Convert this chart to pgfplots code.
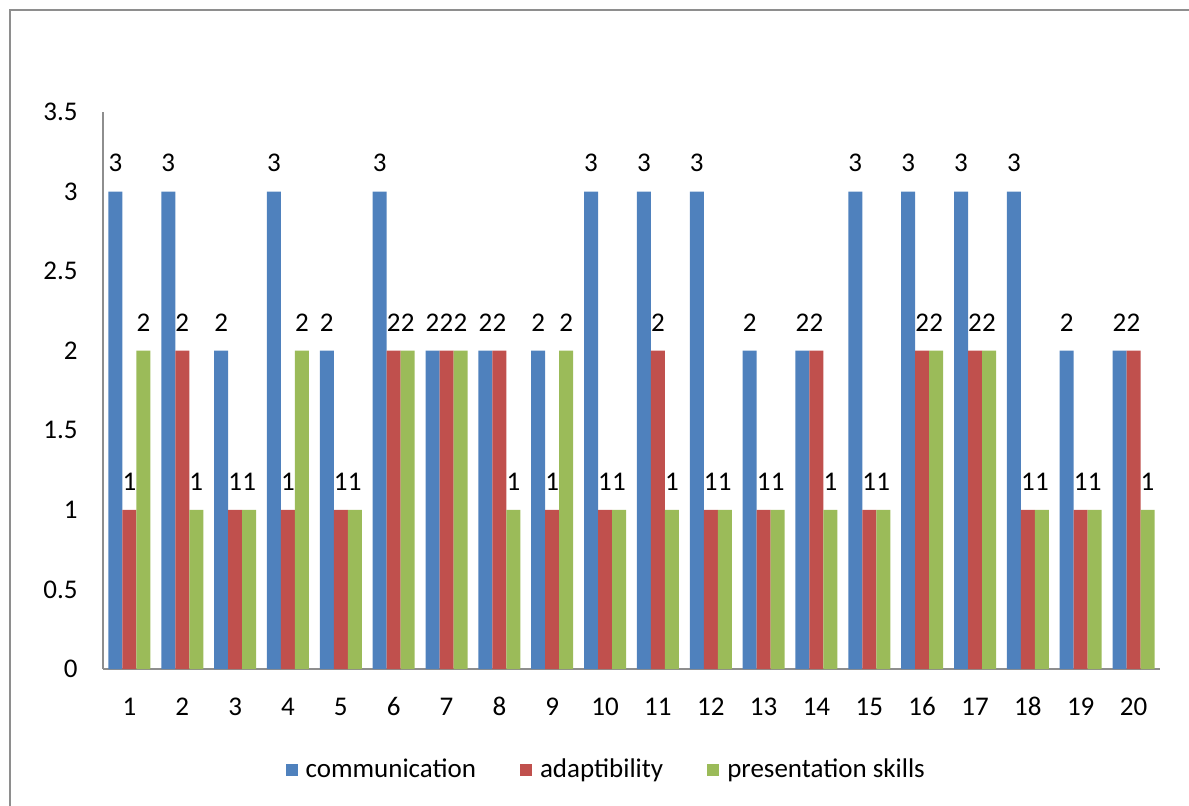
\documentclass[border=0pt]{standalone}
\usepackage{pgfplots}
\pgfplotsset{compat=1.18}
\usepackage{fontspec}
\setmainfont{Carlito}
\definecolor{cblue}{HTML}{4F81BD}
\definecolor{cred}{HTML}{C0504D}
\definecolor{cgreen}{HTML}{9BBB59}
\definecolor{axgray}{HTML}{8E8E8E}
\begin{document}
\fontsize{13.5pt}{15pt}\selectfont
\begin{tikzpicture}
\useasboundingbox (0,0) rectangle (594.5pt,-403pt);
\draw[axgray, line width=1pt] (5pt,-420pt) -- (5pt,-5pt) -- (610pt,-5pt);
\begin{axis}[
  at={(51.5pt,-334.5pt)}, anchor=south west,
  scale only axis, width=528.5pt, height=278.5pt,
  axis x line*=bottom, axis y line*=left,
  axis line style={axgray, line width=0.8pt},
  ymin=0, ymax=3.5, ytick={0,0.5,...,3.5},
  xmin=0.5, xmax=20.5, xtick={1,...,20},
  major tick length=0pt,
  /pgf/number format/assume math mode=true,
  tick label style={font=\fontsize{13.5pt}{15pt}\selectfont},
  yticklabel style={xshift=-8pt},
  xticklabel style={yshift=-10pt, text height=8.5pt, text depth=0pt},
  ybar=0pt, bar width=7pt,
  nodes near coords,
  every node near coord/.append style={font=\fontsize{13.5pt}{15pt}\selectfont, yshift=5pt, black},
  legend style={at={(0.477,-0.181)}, anchor=center, draw=none, legend columns=3,
    font=\fontsize{13.5pt}{15pt}\selectfont,
    /tikz/every odd column/.append style={column sep=2pt},
    /tikz/every even column/.append style={column sep=20pt}},
  legend image code/.code={\fill[#1] (0pt,-3pt) rectangle (6pt,3pt);},
]
\addplot[fill=cblue, draw=none] coordinates {(1,3)(2,3)(3,2)(4,3)(5,2)(6,3)(7,2)(8,2)(9,2)(10,3)(11,3)(12,3)(13,2)(14,2)(15,3)(16,3)(17,3)(18,3)(19,2)(20,2)};
\addplot[fill=cred, draw=none] coordinates {(1,1)(2,2)(3,1)(4,1)(5,1)(6,2)(7,2)(8,2)(9,1)(10,1)(11,2)(12,1)(13,1)(14,2)(15,1)(16,2)(17,2)(18,1)(19,1)(20,2)};
\addplot[fill=cgreen, draw=none] coordinates {(1,2)(2,1)(3,1)(4,2)(5,1)(6,2)(7,2)(8,1)(9,2)(10,1)(11,1)(12,1)(13,1)(14,1)(15,1)(16,2)(17,2)(18,1)(19,1)(20,1)};
\legend{communication, adaptibility, presentation skills}
\end{axis}
\end{tikzpicture}
\end{document}
